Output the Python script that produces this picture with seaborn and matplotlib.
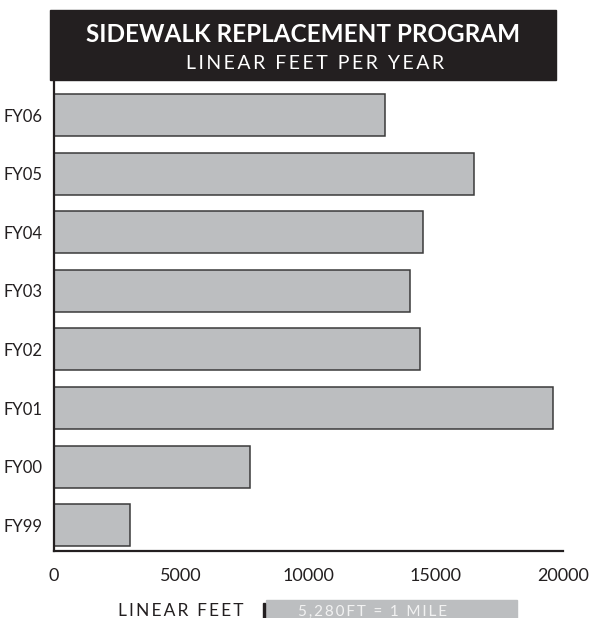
import matplotlib
matplotlib.use("Agg")
import matplotlib.pyplot as plt
import seaborn as sns
import pandas as pd
from matplotlib.patches import Rectangle

# ---- data ----
years = ["FY06", "FY05", "FY04", "FY03", "FY02", "FY01", "FY00", "FY99"]
linear_feet = [13000, 16500, 14500, 14000, 14400, 19600, 7700, 3000]
x_ticks = [0, 5000, 10000, 15000, 20000]
title = "SIDEWALK REPLACEMENT PROGRAM"
subtitle = "LINEAR FEET PER YEAR"
x_label = "LINEAR FEET"
note = "5,280FT = 1 MILE"

sns.set_theme(style="white")
plt.rcParams["font.family"] = ["Lato", "DejaVu Sans"]

W, H = 593, 618
fig = plt.figure(figsize=(W / 100, H / 100), dpi=100)


def fx(px):
    return px / W


def fy(py):
    return 1 - py / H


def spaced(s, sp="\u200a"):
    return sp.join(list(s))


ax = fig.add_axes([fx(54), fy(551), (563 - 54) / W, (551 - 80) / H])
df = pd.DataFrame({"year": years, "feet": linear_feet})
sns.barplot(data=df, x="feet", y="year", order=years, orient="h",
            color="#bcbec0", saturation=1, width=0.717,
            edgecolor="#3a3a3a", linewidth=1.1, ax=ax)

ax.set_xlim(0, 20000)
ax.set_ylim(7.44, -0.598)
ax.set_xticks(x_ticks)
ax.set_xticklabels([str(t) for t in x_ticks])
ax.set_xlabel("")
ax.set_ylabel("")
for s in ["top", "right"]:
    ax.spines[s].set_visible(False)
for s in ["left", "bottom"]:
    ax.spines[s].set_color("#231f20")
    ax.spines[s].set_linewidth(1.6)
ax.tick_params(axis="x", direction="in", length=7.5, width=1.6,
               color="#231f20", pad=12, labelsize=13, labelcolor="#231f20")
ax.tick_params(axis="y", length=0, pad=8, labelsize=12, labelcolor="#231f20")

# Title box
fig.patches.append(Rectangle((fx(50), fy(80)), (556 - 50) / W, (80 - 10) / H,
                             transform=fig.transFigure, color="#231f20", zorder=0))
fig.text(fx(303), fy(42), title, ha="center", va="baseline", color="white",
         fontsize=17.5, fontweight="bold")
fig.text(fx(315), fy(69), spaced(subtitle, "\u2009"), ha="center", va="baseline",
         color="white", fontsize=14, fontweight="normal")

# Bottom label and scale note
fig.text(fx(181), fy(616), spaced(x_label, "\u2009"), ha="center", va="baseline",
         color="#231f20", fontsize=12.5, fontweight="normal")
fig.patches.append(Rectangle((fx(266), 0), (517 - 266) / W, (618 - 600) / H,
                             transform=fig.transFigure, color="#bcbec0", zorder=0))
fig.patches.append(Rectangle((fx(263), 0), 2 / W, (618 - 603) / H,
                             transform=fig.transFigure, color="#231f20", zorder=1))
fig.text(fx(372), fy(616), spaced(note, "\u2009"), ha="center", va="baseline",
         color="#f2f2f2", fontsize=11, fontweight="normal")

fig.savefig("out.png", dpi=100)
